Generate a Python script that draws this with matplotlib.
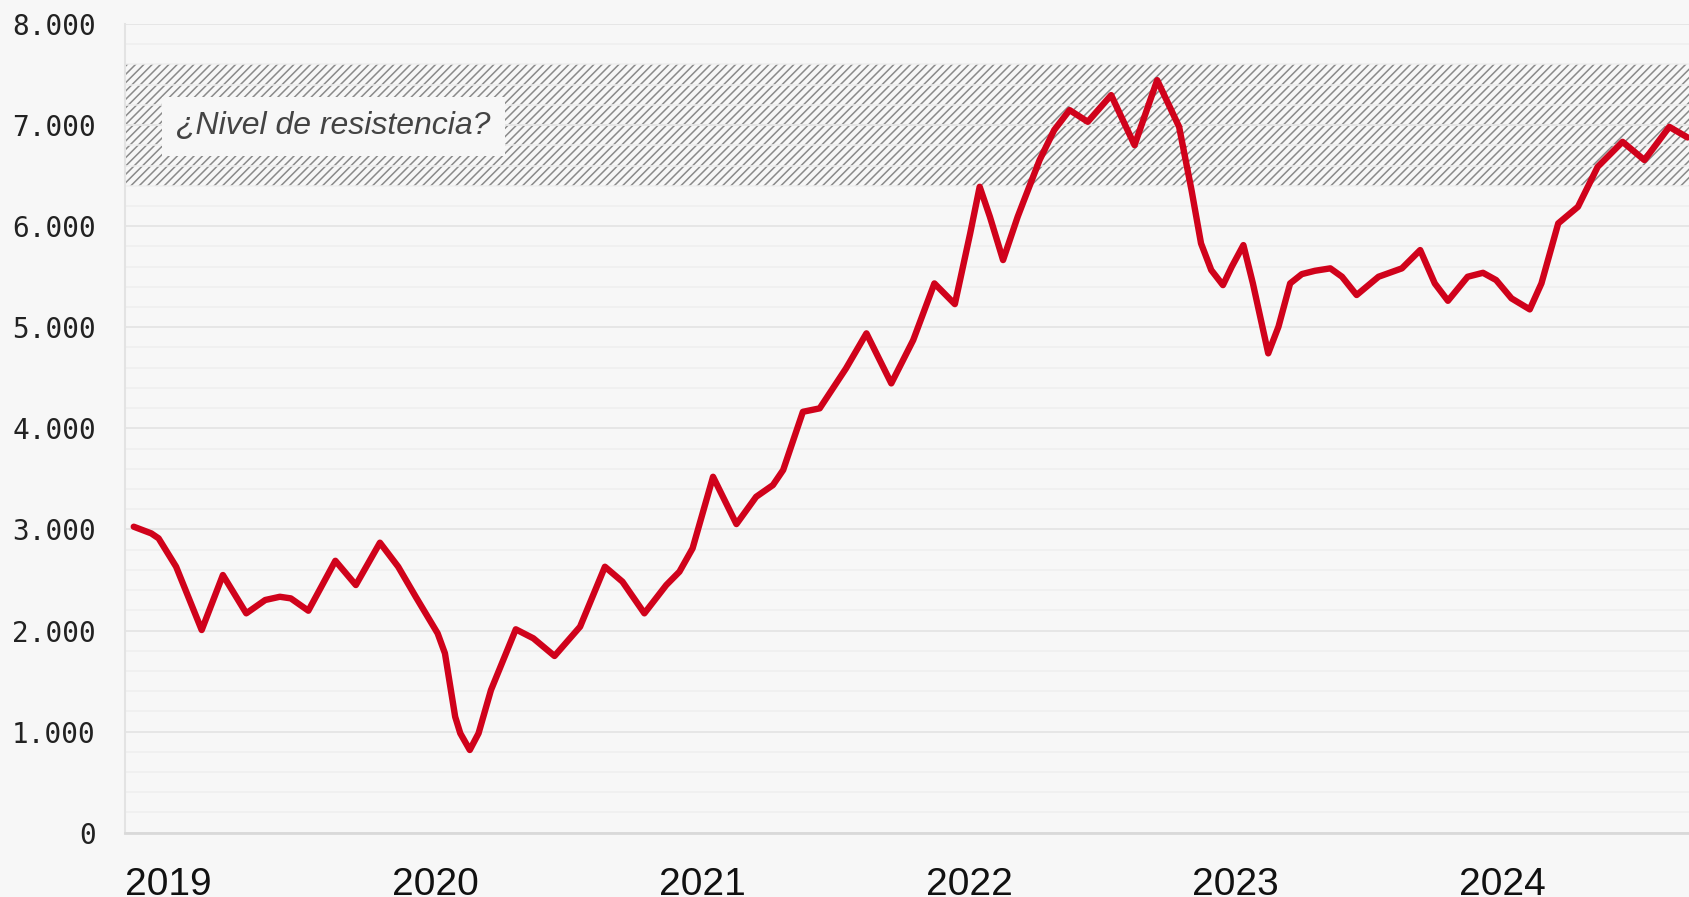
"""Resistance band chart, 2019-2024."""
import matplotlib.pyplot as plt
import pandas as pd
from matplotlib.ticker import FuncFormatter, MultipleLocator

dates = [
    "2019-01-13", "2019-02-06", "2019-02-16", "2019-03-12", "2019-04-16",
    "2019-05-15", "2019-06-16", "2019-07-12", "2019-08-01", "2019-08-16",
    "2019-09-09", "2019-10-16", "2019-11-13", "2019-12-16", "2020-01-10",
    "2020-02-03", "2020-03-04", "2020-03-14", "2020-03-28", "2020-04-04",
    "2020-04-17", "2020-04-29", "2020-05-16", "2020-06-19", "2020-07-13",
    "2020-08-11", "2020-09-15", "2020-10-19", "2020-11-12", "2020-12-12",
    "2021-01-11", "2021-01-29", "2021-02-16", "2021-03-16", "2021-04-17",
    "2021-05-14", "2021-06-06", "2021-06-20", "2021-07-17", "2021-08-09",
    "2021-09-14", "2021-10-12", "2021-11-15", "2021-12-15", "2022-01-13",
    "2022-02-10", "2022-03-03", "2022-03-16", "2022-03-30", "2022-04-17",
    "2022-05-07", "2022-05-14", "2022-06-06", "2022-06-26", "2022-07-17",
    "2022-08-11", "2022-09-12", "2022-10-14", "2022-11-14", "2022-12-14",
    "2022-12-31", "2023-01-13", "2023-01-27", "2023-02-12", "2023-02-24",
    "2023-03-12", "2023-03-25", "2023-04-15", "2023-04-29", "2023-05-15",
    "2023-05-31", "2023-06-18", "2023-07-09", "2023-07-25", "2023-08-14",
    "2023-09-13", "2023-10-15", "2023-11-09", "2023-11-29", "2023-12-17",
    "2024-01-13", "2024-02-03", "2024-02-21", "2024-03-13", "2024-04-07",
    "2024-04-23", "2024-05-16", "2024-06-12", "2024-07-09", "2024-08-12",
    "2024-09-11", "2024-10-15", "2024-11-09",
]
values = [
    3027, 2961, 2912, 2631, 2005,
    2549, 2170, 2302, 2334, 2318,
    2196, 2690, 2450, 2869, 2631,
    2334, 1972, 1774, 1147, 983,
    818, 983, 1411, 2012, 1923,
    1748, 2038, 2631, 2483, 2170,
    2450, 2582, 2813, 3521, 3053,
    3323, 3439, 3588, 4164, 4198,
    4593, 4940, 4445, 4873, 5434,
    5229, 5929, 6390, 6093, 5665,
    6093, 6225, 6654, 6951, 7149,
    7033, 7297, 6802, 7445, 6983,
    6357, 5830, 5566, 5417, 5598,
    5813, 5434, 4742, 5005, 5434,
    5526, 5559, 5583, 5500, 5319,
    5500, 5583, 5764, 5434, 5262,
    5500, 5539, 5467, 5286, 5177,
    5434, 6028, 6192, 6588, 6835,
    6654, 6983, 6878,
]

band_low, band_high = 6400, 7600
note_text = "¿Nivel de resistencia?"
note_date = "2019-03-12"
note_value = 6990

year_ticks = ["2019-01-01", "2020-01-01", "2021-01-01",
              "2022-01-01", "2023-01-01", "2024-01-01"]
year_labels = ["2019", "2020", "2021", "2022", "2023", "2024"]

BG = "#f7f7f7"
RED = "#d0021b"

plt.rcParams["hatch.linewidth"] = 1.1

fig = plt.figure(figsize=(16.89, 8.97), dpi=100, facecolor=BG)
ax = fig.add_axes([0.074, 0.0717, 0.926, 0.9015])
ax.set_facecolor(BG)

x = pd.to_datetime(dates)

# resistance band, hatched
ax.axhspan(band_low, band_high, facecolor="none", edgecolor="#8a8a8a",
           hatch="////", linewidth=0, zorder=0.3)

ax.plot(x, values, color=RED, linewidth=4.6, solid_capstyle="round",
        solid_joinstyle="round", zorder=3)

ax.text(pd.Timestamp(note_date), note_value, note_text, fontsize=23,
        style="italic", family="Liberation Sans", color="#444444",
        ha="left", va="center", zorder=4,
        bbox=dict(boxstyle="square,pad=0.45", facecolor=BG, edgecolor="none"))

ax.set_ylim(0, 8000)
ax.set_xlim(pd.Timestamp("2019-01-01"), pd.Timestamp("2024-11-11"))

ax.yaxis.set_major_locator(MultipleLocator(1000))
ax.yaxis.set_minor_locator(MultipleLocator(200))
ax.yaxis.set_major_formatter(
    FuncFormatter(lambda v, p: f"{int(v):,}".replace(",", ".")))
ax.set_axisbelow(True)
ax.grid(which="major", axis="y", color="#e6e6e6", linewidth=1.4)
ax.grid(which="minor", axis="y", color="#eeeeee", linewidth=1.1)
ax.grid(which="both", axis="x", visible=False)

ax.set_xticks(pd.to_datetime(year_ticks))
ax.set_xticklabels(year_labels, ha="left", fontsize=28,
                   family="Liberation Sans", color="#111111")
ax.tick_params(axis="x", length=0, pad=25)
ax.tick_params(axis="y", which="both", length=0, pad=21)
for lab in ax.get_yticklabels():
    lab.set_fontfamily("DejaVu Sans Mono")
    lab.set_fontsize(20)
    lab.set_color("#222222")

for side in ["top", "right"]:
    ax.spines[side].set_visible(False)
ax.spines["left"].set_color("#e3e3e3")
ax.spines["left"].set_linewidth(1.5)
ax.spines["bottom"].set_color("#d9d9d9")
ax.spines["bottom"].set_linewidth(2)

fig.savefig("out.png", dpi=100, facecolor=BG)
